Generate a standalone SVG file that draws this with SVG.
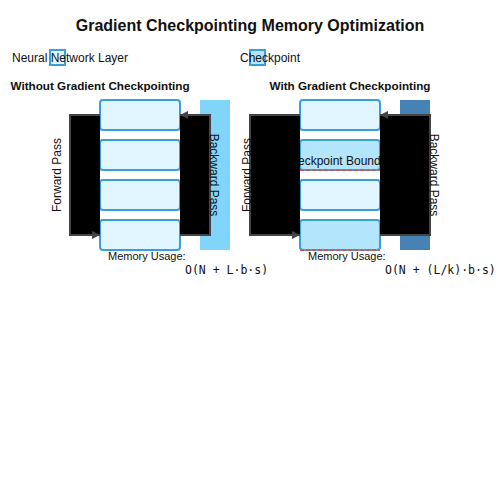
<svg xmlns="http://www.w3.org/2000/svg" width="500" height="500" viewBox="0 0 500 500">
<defs>
<marker id="arr" markerWidth="8" markerHeight="8" refX="8" refY="4" orient="auto" markerUnits="userSpaceOnUse">
<path d="M0,0 L8,4 L0,8 Z" fill="#444"/>
</marker>
<style>
text{font-family:"Liberation Sans",Arial,sans-serif;fill:#111}
.title{font-size:16px;font-weight:bold}
.sub{font-size:11.7px;font-weight:bold}
.lbl{font-size:12px}
.mem{font-size:11px}
.mono{font-family:"DejaVu Sans Mono","Liberation Mono",monospace;font-size:11.5px}
.layer{fill:#e1f5fe;stroke:#3a9fd8;stroke-width:2}
.ckpt{fill:#b3e5fc;stroke:#3a9fd8;stroke-width:2}
.bound{stroke:#d9534f;stroke-width:2;stroke-dasharray:4 2;fill:none}
.flow{fill:#000;stroke:#444;stroke-width:2}
</style>
</defs>
<rect width="500" height="500" fill="#fff"/>
<text class="title" x="250" y="31" text-anchor="middle">Gradient Checkpointing Memory Optimization</text>
<g id="legend">
<rect class="layer" x="50" y="50" width="15" height="15"/>
<text class="lbl" x="70" y="62" text-anchor="middle">Neural Network Layer</text>
<rect class="ckpt" x="250" y="50" width="15" height="15"/>
<text class="lbl" x="270" y="62" text-anchor="middle">Checkpoint</text>
</g>
<text class="sub" x="100" y="90" text-anchor="middle">Without Gradient Checkpointing</text>
<text class="sub" x="350" y="90" text-anchor="middle">With Gradient Checkpointing</text>
<g id="memory-left"><rect x="200" y="100" width="30" height="150" fill="#81d4fa"/></g>
<g id="memory-right"><rect x="400" y="100" width="30" height="150" fill="#4682b4"/></g>
<g id="left-layers">
<g id="L1"><rect class="layer" x="100" y="100" width="80" height="30" rx="3"/></g>
<g id="L2"><rect class="layer" x="100" y="140" width="80" height="30" rx="3"/></g>
<g id="L3"><rect class="layer" x="100" y="180" width="80" height="30" rx="3"/></g>
<g id="L4"><rect class="layer" x="100" y="220" width="80" height="30" rx="3"/></g>
</g>
<g id="right-layers">
<g id="R1"><rect class="layer" x="300" y="100" width="80" height="30" rx="3"/></g>
<g id="R2"><rect class="ckpt" x="300" y="140" width="80" height="30" rx="3"/><line class="bound" x1="300" y1="170" x2="380" y2="170"/><text class="lbl" x="340" y="165" text-anchor="middle">Checkpoint Boundary</text></g>
<g id="R3"><rect class="layer" x="300" y="180" width="80" height="30" rx="3"/></g>
<g id="R4"><rect class="ckpt" x="300" y="220" width="80" height="30" rx="3"/><line class="bound" x1="300" y1="250" x2="380" y2="250"/></g>
</g>
<g id="connectors">
<path class="flow" d="M100,115 H70 V235 H100" marker-end="url(#arr)"/>
<path class="flow" d="M180,235 H210 V115 H180" marker-end="url(#arr)"/>
<path class="flow" d="M300,115 H250 V235 H300" marker-end="url(#arr)"/>
<path class="flow" d="M380,235 H430 V115 H380" marker-end="url(#arr)"/>
</g>
<text class="lbl" x="61" y="175" text-anchor="middle" transform="rotate(-90 61 175)">Forward Pass</text>
<text class="lbl" x="209.5" y="175" text-anchor="middle" transform="rotate(90 209.5 175)">Backward Pass</text>
<text class="lbl" x="251" y="175" text-anchor="middle" transform="rotate(-90 251 175)">Forward Pass</text>
<text class="lbl" x="429.5" y="175" text-anchor="middle" transform="rotate(90 429.5 175)">Backward Pass</text>
<text class="mem" x="108" y="260">Memory Usage:</text>
<text class="mono" x="185" y="274">O(N + L·b·s)</text>
<text class="mem" x="308" y="260">Memory Usage:</text>
<text class="mono" x="385" y="274">O(N + (L/k)·b·s)</text>
</svg>
